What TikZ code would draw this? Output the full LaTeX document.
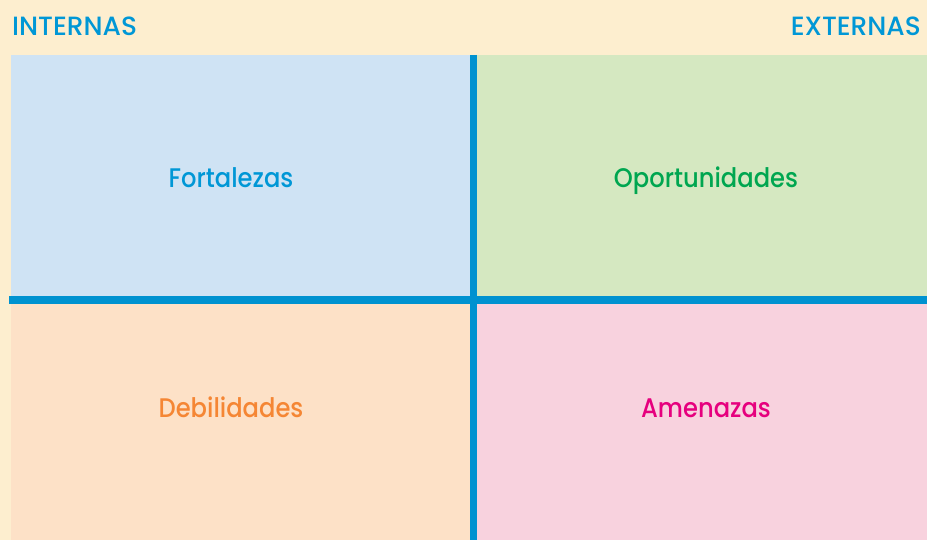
\documentclass[tikz,border=0pt]{standalone}
\usepackage{fontspec}
\newfontfamily\popfont{Poppins Medium}
\definecolor{bgcream}{HTML}{FDEECF}
\definecolor{linebl}{HTML}{0092D0}
\definecolor{qtl}{HTML}{CFE3F4}
\definecolor{qtr}{HTML}{D5E8C1}
\definecolor{qbl}{HTML}{FDE1C7}
\definecolor{qbr}{HTML}{F8D2DE}
\definecolor{tblue}{HTML}{0097D6}
\definecolor{tgreen}{HTML}{00A650}
\definecolor{torange}{HTML}{F58634}
\definecolor{tmag}{HTML}{E6007E}
\begin{document}
\begin{tikzpicture}[x=1bp,y=-1bp,
  qlabel/.style={font=\popfont\fontsize{27}{32}\selectfont, inner sep=0pt, anchor=base, xscale=0.9},
  hlabel/.style={font=\popfont\fontsize{26.5}{31}\selectfont, text=tblue, inner sep=0pt},
  divider/.style={draw=linebl, line width=7.5bp}]
\fill[bgcream] (0,0) rectangle (927,540);
\useasboundingbox (0,0) rectangle (927,540);
\fill[qtl] (11,55) rectangle (473,300);
\fill[qtr] (473,55) rectangle (927,300);
\fill[qbl] (11,300) rectangle (473,540);
\fill[qbr] (473,300) rectangle (927,540);
\coordinate (vtop) at (473.5,55);
\coordinate (vbot) at (473.5,540);
\coordinate (hleft) at (9,300);
\coordinate (hright) at (927,300);
\draw[divider] (vtop) -- (vbot);
\draw[divider] (hleft) -- (hright);
\node[hlabel, anchor=base west] (int) at (12,36) {INTERNAS};
\node[hlabel, anchor=base east] (ext) at (921,36) {EXTERNAS};
\node[qlabel, text=tblue] (f) at (231,188) {Fortalezas};
\node[qlabel, text=tgreen] (o) at (706,188) {Oportunidades};
\node[qlabel, text=torange] (d) at (231,417) {Debilidades};
\node[qlabel, text=tmag] (a) at (706,417) {Amenazas};
\end{tikzpicture}
\end{document}
